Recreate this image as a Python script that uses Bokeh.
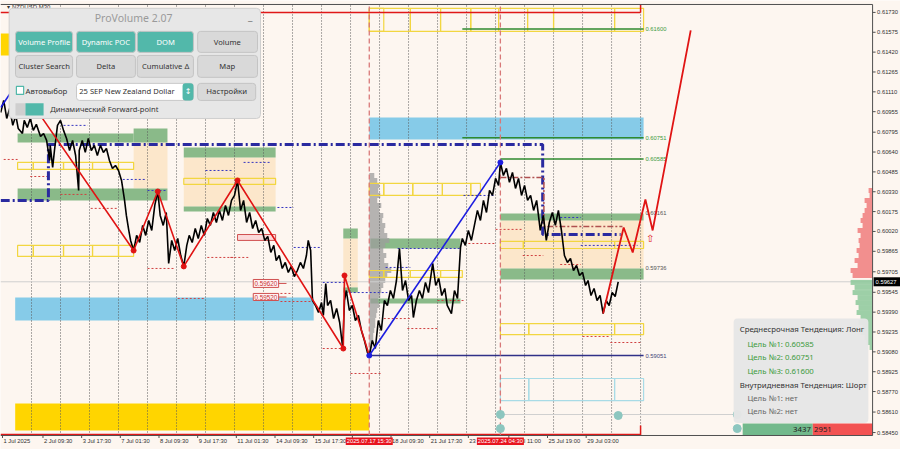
from bokeh.plotting import figure
from bokeh.models import ColumnDataSource, Range1d
from bokeh.core.properties import value
from bokeh.embed import file_html
from bokeh.resources import INLINE

BG = "#fdf6f0"
FONT = "Noto Sans"
AXF = "Liberation Sans"

# ---------------- scales: x = M30 bar index from 1 Jul 2025 00:00, y = price ----------------
PX_X = 1.655        # bars per screen pixel
PX_Y = 0.00007807   # price per screen pixel
X_MIN = -3.31
X_MAX = X_MIN + 900 * PX_X
Y_MAX = 0.61823
Y_MIN = Y_MAX - 449 * PX_Y
CH_X1 = 1440                 # right edge of the price pane (price scale on the right)
CH_Y0, CH_Y1 = 0.58427, 0.61792

TICK_BARS = [0, 67, 131, 195, 259, 323, 387, 451, 515, 579, 643, 707, 771, 838, 902, 966]
TICK_LABELS = ["1 Jul 2025", "2 Jul 09:30", "3 Jul 17:30", "7 Jul 01:30", "8 Jul 09:30", "9 Jul 17:30",
               "11 Jul 01:30", "14 Jul 09:30", "15 Jul 17:30", "17 Jul 01:30", "18 Jul 09:30",
               "21 Jul 17:30", "23 Jul 01:30", "24 Jul 11:00", "25 Jul 19:00", "29 Jul 03:00"]
PRICE_TICKS = [0.61730, 0.61575, 0.61420, 0.61265, 0.61110, 0.60955, 0.60795, 0.60640,
               0.60485, 0.60330, 0.60175, 0.60020, 0.59865, 0.59705, 0.59545, 0.59390,
               0.59235, 0.59080, 0.58925, 0.58770, 0.58610, 0.58450]
DAY_STARTS = [48, 96, 144, 192, 240, 288, 336, 384, 432, 480, 528, 576, 624, 672, 720,
              768, 816, 864, 912, 960, 1008, 1056]

# ---------------- price path ----------------
CLOSE_BAR = [-3, 2, 7, 12, 17, 22, 26, 33, 36, 41, 46, 51, 56, 63, 68, 73, 78, 79, 83, 86,
             91, 96, 101, 106, 111, 116, 121, 126, 127, 132, 137, 142, 147, 152, 157, 162, 167,
             172, 177, 182, 187, 192, 197, 202, 205, 209, 212, 217, 222, 227, 232, 237, 242,
             247, 252, 257, 261, 266, 271, 275, 280, 285, 290, 295, 300, 305, 309, 314, 319,
             324, 329, 334, 339, 344, 349, 354, 359, 364, 369, 374, 379, 384, 389, 394, 399,
             404, 409, 414, 419, 424, 429, 434, 439, 444, 449, 453, 458, 463, 468, 473, 478,
             483, 488, 493, 498, 503, 506, 510, 513, 518, 523, 528, 531, 535, 538, 543, 548,
             553, 558, 563, 566, 569, 574, 579, 584, 589, 594, 599, 604, 607, 612, 617, 622,
             627, 632, 637, 642, 647, 652, 657, 662, 667, 672, 677, 680, 685, 690, 695, 700,
             705, 712, 717, 722, 727, 732, 736, 743, 748, 753, 758, 761, 766, 771, 776, 781,
             786, 791, 796, 801, 806, 811, 816, 821, 824, 829, 834, 839, 844, 849, 854, 859,
             864, 869, 874, 879, 884, 890, 895, 900, 905, 910, 915, 920, 925, 930, 935, 940,
             945, 950, 955, 960, 965, 969, 974, 979, 984, 989, 994, 999, 1004, 1009, 1014, 1019]
CLOSE = [0.60949, 0.61043, 0.60902, 0.60981, 0.60848, 0.60926, 0.60824, 0.60785, 0.60887,
         0.60832, 0.60902, 0.60809, 0.60856, 0.60762, 0.60785, 0.60731, 0.60574, 0.60692,
         0.60520, 0.60652, 0.60848, 0.60887, 0.60809, 0.60746, 0.60652, 0.60731, 0.60613,
         0.60340, 0.60652, 0.60731, 0.60637, 0.60746, 0.60652, 0.60692, 0.60613, 0.60692,
         0.60637, 0.60668, 0.60574, 0.60512, 0.60535, 0.60496, 0.60418, 0.60262, 0.60145,
         0.60028, 0.59950, 0.59871, 0.59989, 0.59934, 0.60067, 0.59989, 0.60106, 0.60028,
         0.60223, 0.60332, 0.60145, 0.60067, 0.60168, 0.59770, 0.59950, 0.59871, 0.59965,
         0.59832, 0.59747, 0.59911, 0.59989, 0.59934, 0.60043, 0.59965, 0.60067, 0.59989,
         0.60121, 0.60067, 0.60168, 0.60090, 0.60184, 0.60106, 0.60223, 0.60145, 0.60262,
         0.60301, 0.60418, 0.60184, 0.60262, 0.60090, 0.60168, 0.60043, 0.60106, 0.60012,
         0.60043, 0.59950, 0.59981, 0.59856, 0.59911, 0.59793, 0.59832, 0.59731, 0.59778,
         0.59700, 0.59747, 0.59668, 0.59715, 0.59778, 0.59731, 0.59832, 0.59950, 0.59871,
         0.59481, 0.59442, 0.59387, 0.59465, 0.59364, 0.59614, 0.59442, 0.59481, 0.59340,
         0.59419, 0.59309, 0.59114, 0.59481, 0.59559, 0.59403, 0.59442, 0.59325, 0.59364,
         0.59247, 0.59169, 0.59075, 0.59051, 0.59169, 0.59106, 0.59325, 0.59247, 0.59481,
         0.59442, 0.59559, 0.59497, 0.59637, 0.59887, 0.59559, 0.59637, 0.59481, 0.59520,
         0.59348, 0.59481, 0.59559, 0.59497, 0.59622, 0.59543, 0.59770, 0.59598, 0.59653,
         0.59520, 0.59575, 0.59442, 0.59379, 0.59559, 0.59497, 0.59895, 0.59965, 0.59911,
         0.60028, 0.59950, 0.60067, 0.60184, 0.60106, 0.60262, 0.60168, 0.60340, 0.60301,
         0.60434, 0.60379, 0.60559, 0.60457, 0.60512, 0.60403, 0.60481, 0.60356, 0.60434,
         0.60301, 0.60379, 0.60262, 0.60301, 0.60184, 0.60262, 0.60028, 0.60145, 0.59950,
         0.60090, 0.60168, 0.60067, 0.60184, 0.60028, 0.59832, 0.59778, 0.59809, 0.59715,
         0.59754, 0.59676, 0.59700, 0.59598, 0.59637, 0.59520, 0.59575, 0.59481, 0.59520,
         0.59379, 0.59481, 0.59442, 0.59543, 0.59512, 0.59627]
LAST_PRICE = 0.59627

# ---------------- zigzag / projection ----------------
ZZ_RED_BAR = [25, 217, 257, 300, 389, 564, 566, 607]
ZZ_RED_P = [0.61184, 0.59871, 0.60332, 0.59747, 0.60418, 0.59106, 0.59676, 0.59051]
ZZ_BLUE1_BAR = [-3, 25]
ZZ_BLUE1_P = [0.60988, 0.61184]
ZZ_BLUE2_BAR = [607, 824]
ZZ_BLUE2_P = [0.59051, 0.60559]
PROJ_BAR = [994, 1028, 1043, 1064, 1076, 1139]
PROJ_P = [0.59379, 0.60051, 0.59856, 0.60270, 0.60028, 0.61590]

# ---------------- zones ----------------
GREEN_Z = dict(l=[25, 217, 25, 300, 300, 564, 564, 609, 609, 824, 824],
               r=[217, 273, 273, 452, 452, 588, 588, 758, 758, 1061, 1061],
               b=[0.60715, 0.60715, 0.60262, 0.60598, 0.60176, 0.59965, 0.59543, 0.59887, 0.59458, 0.60106, 0.59645],
               t=[0.60785, 0.60824, 0.60356, 0.60676, 0.60215, 0.60043, 0.59583, 0.59965, 0.59497, 0.60160, 0.59731])
BEIGE_Z = dict(l=[217, 300, 564, 824], r=[273, 452, 588, 1061],
               b=[0.60356, 0.60215, 0.59583, 0.59731], t=[0.60715, 0.60598, 0.59965, 0.60106])
SKY_Z = dict(l=[607, 21], r=[1061, 515], b=[0.60738, 0.59325], t=[0.60910, 0.59504])
GOLD_Z = dict(l=[21, -3], r=[607, 21], b=[0.58466, 0.61394], t=[0.58677, 0.61565])
YEL_BOX = dict(
    l=[607, 607, 675, 725, 775, 821, 869, 912, 1013,
       25, 51, 101, 149, 192, 25, 51, 101, 149, 192,
       300, 341, 432, 607, 631, 679, 728, 775, 607, 631, 675, 725,
       824, 862, 1013, 824, 871, 1013],
    r=[631, 675, 725, 775, 821, 869, 912, 1013, 1061,
       51, 101, 149, 192, 217, 51, 101, 149, 192, 217,
       341, 432, 452, 631, 679, 728, 775, 791, 631, 675, 725, 761,
       862, 1013, 1061, 871, 1013, 1061],
    b=[0.61582] * 9 + [0.60504] * 5 + [0.59825] * 5 + [0.60387] * 3 + [0.60301] * 5
      + [0.59661] * 4 + [0.59887] * 3 + [0.59215] * 3,
    t=[0.61762] * 9 + [0.60559] * 5 + [0.59911] * 5 + [0.60434] * 3 + [0.60395] * 5
      + [0.59715] * 4 + [0.59942] * 3 + [0.59301] * 3)
CYAN_BOX = dict(l=[824, 871, 1013], r=[871, 1013, 1061], b=[0.58700] * 3, t=[0.58872] * 3)

LEVELS_GREEN = dict(x0=[761, 761, 824], x1=[1061, 1061, 1061], y=[0.61600, 0.60751, 0.60585])
LEVEL_NAVY = dict(x0=[607], x1=[1061], y=[0.59051])
LEVEL_TXT = dict(x=[1064] * 6, y=[0.61600, 0.60751, 0.60585, 0.60161, 0.59736, 0.59051],
                 text=["0.61600", "0.60751", "0.60585", "0.60161", "0.59736", "0.59051"],
                 color=["#3c9a3c", "#3c9a3c", "#3c9a3c", "#555555", "#555555", "#444477"])

STEP_BAR = [-3, 76, 76, 894, 894, 1023]
STEP_P = [0.60262, 0.60262, 0.60699, 0.60699, 0.59996, 0.59996]
BROWN_BAR = [824, 896, 896, 1026]
BROWN_P = [0.60442, 0.60442, 0.60059, 0.60059]

RED_DOT = dict(x0=[2, 46, 96, 146, 240, 339, 290, 377, 460, 460, 530, 631, 670, 576, 720, 771, 816, 861, 923, 960, 1006],
               x1=[25, 79, 141, 190, 283, 382, 333, 410, 477, 510, 564, 675, 720, 626, 766, 816, 861, 895, 957, 1006, 1056],
               y=[0.60582, 0.60449, 0.60309, 0.60200, 0.59731, 0.59817, 0.59497, 0.59817, 0.59536, 0.59473, 0.59106,
                  0.59340, 0.59262, 0.58911, 0.59481, 0.59926, 0.60036, 0.59832, 0.59762, 0.59200, 0.59153])
BLUE_DOT = dict(x0=[101, 199, 240, 336, 399, 455, 482, 530, 568, 654, 634, 763, 923, 957],
                x1=[141, 237, 273, 382, 444, 482, 526, 568, 637, 758, 675, 813, 957, 1051],
                y=[0.60848, 0.60426, 0.60340, 0.60496, 0.60559, 0.60207, 0.59895, 0.59622, 0.59543, 0.59887,
                   0.59739, 0.60301, 0.60129, 0.59911])

VLINE_BARS = [607, 824]
VLINE_TEXT = ["2025.07.17 15:30", "2025.07.24 04:30"]

VP_P = [0.60457, 0.60418, 0.60379, 0.60340, 0.60301, 0.60262, 0.60223, 0.60184, 0.60145, 0.60106,
        0.60067, 0.60028, 0.59989, 0.59950, 0.59911, 0.59871, 0.59832, 0.59793, 0.59754, 0.59715,
        0.59676, 0.59637, 0.59598, 0.59559, 0.59520, 0.59481, 0.59442, 0.59403, 0.59364, 0.59325,
        0.59286, 0.59247, 0.59208, 0.59169, 0.59130, 0.59091]
VP_VOL = [5, 8, 10, 9, 11, 8, 12, 10, 14, 13, 16, 15, 18, 20, 16, 14, 17, 15, 19, 22, 18, 16, 14, 12,
          11, 9, 10, 8, 7, 6, 6, 5, 4, 4, 3, 2]
RP_RED_P = [0.60340, 0.60301, 0.60262, 0.60223, 0.60184, 0.60145, 0.60106, 0.60067, 0.60028, 0.59989,
            0.59950, 0.59911, 0.59871, 0.59832, 0.59793, 0.59754, 0.59715, 0.59676]
RP_RED_VOL = [4, 3, 8, 6, 8, 10, 12, 10, 15, 12, 14, 13, 16, 14, 18, 15, 22, 20]
RP_GRN_P = [0.59622, 0.59583, 0.59543, 0.59504, 0.59465, 0.59426, 0.59387, 0.59348, 0.59309, 0.59270,
            0.59231, 0.59192, 0.59153, 0.59114]
RP_GRN_VOL = [22, 18, 20, 15, 17, 14, 16, 12, 14, 10, 12, 8, 6, 3]
BUY_VOL, SELL_VOL = 3437, 2951

# ---------------- figure: the frame spans the whole window; price/time scales drawn at the pane edges ----
p = figure(frame_width=900, frame_height=449, x_range=Range1d(X_MIN, X_MAX),
           y_range=Range1d(Y_MIN, Y_MAX), output_backend="svg", toolbar_location=None,
           x_axis_location=None, y_axis_location=None, min_border=0,
           background_fill_color=BG, border_fill_color=BG, outline_line_color=None)
p.xgrid.visible = False
p.ygrid.visible = False

# zones
p.quad(left="l", right="r", bottom="b", top="t", source=ColumnDataSource(BEIGE_Z),
       fill_color="#fce6c6", fill_alpha=0.9, line_color=None)
p.quad(left="l", right="r", bottom="b", top="t", source=ColumnDataSource(SKY_Z),
       fill_color="#86cbe8", line_color=None)
p.quad(left="l", right="r", bottom="b", top="t", source=ColumnDataSource(GREEN_Z),
       fill_color="#7db47d", fill_alpha=0.9, line_color=None)
p.quad(left="l", right="r", bottom="b", top="t", source=ColumnDataSource(GOLD_Z),
       fill_color="#ffd500", line_color=None)

p.quad(left=[VLINE_BARS[0]] * len(VP_P), right=[VLINE_BARS[0] + v * PX_X for v in VP_VOL],
       bottom=[v - 0.000195 for v in VP_P], top=[v + 0.000195 for v in VP_P],
       fill_color="#9c9c9c", fill_alpha=0.75, line_color=None)

# day separators
p.segment(x0=DAY_STARTS, x1=DAY_STARTS, y0=[CH_Y0] * len(DAY_STARTS), y1=[CH_Y1] * len(DAY_STARTS),
          line_color="#5a5a5a", line_width=1, line_dash="1 2")

p.segment(x0=[X_MIN], x1=[CH_X1], y0=[LAST_PRICE], y1=[LAST_PRICE], line_color="#cfcfcf", line_width=1)
p.segment(x0=[824], x1=[1216], y0=[0.58591], y1=[0.58591], line_color="#d0d0d0", line_width=1)

p.quad(left="l", right="r", bottom="b", top="t", source=ColumnDataSource(YEL_BOX),
       fill_alpha=0, line_color="#f2d640", line_width=1.2)
p.quad(left="l", right="r", bottom="b", top="t", source=ColumnDataSource(CYAN_BOX),
       fill_alpha=0, line_color="#a8dbe6", line_width=1.2)

# red frame lines
p.segment(x0=[X_MIN, X_MIN, 1056, 1056], x1=[1056, 1056, 1056, 1056],
          y0=[0.61730, 0.58434, 0.61730, CH_Y0], y1=[0.61730, 0.58434, CH_Y1, 0.58505],
          line_color="#e01818", line_width=1.5)

p.segment(x0="x0", x1="x1", y0="y", y1="y", source=ColumnDataSource(LEVELS_GREEN),
          line_color="#2f8a2f", line_width=1.5)
p.segment(x0="x0", x1="x1", y0="y", y1="y", source=ColumnDataSource(LEVEL_NAVY),
          line_color="#303088", line_width=1.5)
p.segment(x0="x0", x1="x1", y0="y", y1="y", source=ColumnDataSource(RED_DOT),
          line_color="#d04040", line_width=1, line_dash="2 2")
p.segment(x0="x0", x1="x1", y0="y", y1="y", source=ColumnDataSource(BLUE_DOT),
          line_color="#3535c0", line_width=1, line_dash="2 2")
p.text(x="x", y="y", text="text", text_color="color", source=ColumnDataSource(LEVEL_TXT),
       text_font=value(AXF), text_font_size="5.8px", text_baseline="middle", text_align="left")

p.quad(left=[389], right=[452], bottom=[0.59950], top=[0.59996], fill_color="#fbdada",
       line_color="#d05050", line_width=1)
p.quad(left=[415, 415], right=[457, 457], bottom=[0.59583, 0.59481], top=[0.59645, 0.59536],
       fill_color="#fff2f2", line_color="#d05050", line_width=1)
p.segment(x0=[457, 457], x1=[470, 470], y0=[0.59614, 0.59508], y1=[0.59614, 0.59508],
          line_color="#d05050", line_width=1)
p.text(x=[436, 436], y=[0.59614, 0.59508], text=["0.59620", "0.59520"], text_color="#c83030",
       text_font=value(AXF), text_font_size="6.3px", text_baseline="middle", text_align="center")

p.segment(x0=VLINE_BARS, x1=VLINE_BARS, y0=[CH_Y0] * 2, y1=[CH_Y1] * 2,
          line_color="#d87878", line_width=1.3, line_dash="5 3")

p.line(STEP_BAR, STEP_P, line_color="#2a2aa0", line_width=3, line_dash="9 3 2 3")
p.line(BROWN_BAR, BROWN_P, line_color="#b05050", line_width=1.5, line_dash="6 2 2 2")

p.line(CLOSE_BAR, CLOSE, line_color="#000000", line_width=1.6)

p.line(ZZ_RED_BAR, ZZ_RED_P, line_color="#e01414", line_width=1.6)
p.line(ZZ_BLUE1_BAR, ZZ_BLUE1_P, line_color="#1c1ce0", line_width=1.6)
p.line(ZZ_BLUE2_BAR, ZZ_BLUE2_P, line_color="#1c1ce0", line_width=1.6)
p.line(PROJ_BAR, PROJ_P, line_color="#e01414", line_width=1.8)
p.scatter(ZZ_RED_BAR[:-1], ZZ_RED_P[:-1], size=5, color="#e01414")
p.scatter(ZZ_BLUE2_BAR, ZZ_BLUE2_P, size=5, color="#1c1ce0")
p.text(x=[1072], y=[0.59965], text=["⇧"], text_color="#e02020", text_font=value("DejaVu Sans"),
       text_font_size="10px", text_align="center", text_baseline="middle")

p.quad(left=[CH_X1 - v * PX_X for v in RP_RED_VOL], right=[CH_X1] * len(RP_RED_P),
       bottom=[v - 0.000195 for v in RP_RED_P], top=[v + 0.000195 for v in RP_RED_P],
       fill_color="#f07c7c", fill_alpha=0.85, line_color=None)
p.quad(left=[CH_X1 - v * PX_X for v in RP_GRN_VOL], right=[CH_X1] * len(RP_GRN_P),
       bottom=[v - 0.000195 for v in RP_GRN_P], top=[v + 0.000195 for v in RP_GRN_P],
       fill_color="#8cc89a", fill_alpha=0.85, line_color=None)

p.scatter([824, 824, 1019, 1216, 1216], [0.58591, 0.58481, 0.58583, 0.58591, 0.58481],
          size=8, color="#8cc6bf")

# right info box
p.quad(left=[1210], right=[1433], bottom=[0.58525], top=[0.59340], fill_color="#e6e6e6",
       fill_alpha=0.96, line_color=None, border_radius=4)
INFO = dict(x=[1220, 1233, 1233, 1233, 1220, 1233, 1233],
            y=[0.59255, 0.59145, 0.59036, 0.58927, 0.58825, 0.58723, 0.58622],
            text=["Среднесрочная Тенденция: Лонг", "Цель №1: 0.60585", "Цель №2: 0.60751",
                  "Цель №3: 0.61600", "Внутридневная Тенденция: Шорт", "Цель №1: нет", "Цель №2: нет"],
            color=["#333333", "#3c9a3c", "#3c9a3c", "#3c9a3c", "#333333", "#666666", "#666666"])
p.text(x="x", y="y", text="text", text_color="color", source=ColumnDataSource(INFO),
       text_font=value(FONT), text_font_size="7.8px", text_baseline="middle", text_align="left")

p.quad(left=[1225, 1341], right=[1341, CH_X1], bottom=[CH_Y0] * 2, top=[0.58520] * 2,
       fill_color=["#72b98c", "#f25252"], line_color=None)
p.text(x=[1338], y=[0.58474], text=[str(BUY_VOL)], text_color="#222222", text_font=value(FONT),
       text_font_size="7.8px", text_baseline="middle", text_align="right")
p.text(x=[1343], y=[0.58474], text=[str(SELL_VOL)], text_color="#222222", text_font=value(FONT),
       text_font_size="7.8px", text_baseline="middle", text_align="left")

# ---------------- ProVolume panel ----------------
p.text(x=[8], y=[0.61776], text=["▾ NZDUSD,M30"], text_color="#333333", text_font=value(AXF),
       text_font_size="6px", text_baseline="middle", text_align="left")
p.quad(left=[11], right=[427], bottom=[0.60902], top=[0.61762], fill_color="#e7e7e7",
       line_color="#cfcfcf", line_width=1, border_radius=4)
BTN = dict(l=[21.5, 122.5, 223, 323, 21.5, 122.5, 223, 323],
           r=[116, 220, 316, 422, 116, 220, 316, 422],
           b=[0.61418] * 4 + [0.61223] * 4, t=[0.61582] * 4 + [0.61394] * 4,
           fill=["#52b8aa", "#52b8aa", "#52b8aa", "#d9d9d9", "#d9d9d9", "#d9d9d9", "#d9d9d9", "#d9d9d9"],
           x=[69, 171, 270, 372, 69, 171, 270, 372],
           y=[0.61496] * 4 + [0.61309] * 4,
           text=["Volume Profile", "Dynamic POC", "DOM", "Volume", "Cluster Search", "Delta",
                 "Cumulative Δ", "Map"],
           color=["#ffffff"] * 3 + ["#333333"] * 5)
bsrc = ColumnDataSource(BTN)
p.quad(left="l", right="r", bottom="b", top="t", fill_color="fill", line_color="#c4c4c4",
       source=bsrc, border_radius=3)
p.text(x="x", y="y", text="text", text_color="color", source=bsrc, text_font=value(FONT),
       text_font_size="7.6px", text_baseline="middle", text_align="center")
p.text(x=[217], y=[0.61683], text=["ProVolume 2.07"], text_color="#9a9a9a", text_font=value(FONT),
       text_font_size="10.5px", text_baseline="middle", text_align="center")
p.text(x=[410], y=[0.61700], text=["_"], text_color="#777777", text_font=value(FONT),
       text_font_size="10px", text_baseline="middle", text_align="center")
p.quad(left=[23], right=[35], bottom=[0.61090], top=[0.61152], fill_color="#ffffff",
       line_color="#52b8aa", line_width=1.2)
p.text(x=[38], y=[0.61113], text=["Автовыбор"], text_color="#333333", text_font=value(FONT),
       text_font_size="7.8px", text_baseline="middle", text_align="left")
p.quad(left=[122.5], right=[316], bottom=[0.61043], top=[0.61176], fill_color="#ffffff",
       line_color="#c8c8c8", border_radius=3)
p.quad(left=[298], right=[316], bottom=[0.61043], top=[0.61176], fill_color="#52b8aa",
       line_color=None, border_radius=3)
p.text(x=[127], y=[0.61113], text=["25 SEP New Zealand Dollar"], text_color="#333333",
       text_font=value(FONT), text_font_size="7.6px", text_baseline="middle", text_align="left")
p.text(x=[307], y=[0.61110], text=["↕"], text_color="#ffffff", text_font=value("DejaVu Sans"),
       text_font_size="8px", text_baseline="middle", text_align="center")
p.quad(left=[323], right=[419], bottom=[0.61043], top=[0.61176], fill_color="#d9d9d9",
       line_color="#c4c4c4", border_radius=3)
p.text(x=[371], y=[0.61113], text=["Настройки"], text_color="#333333", text_font=value(FONT),
       text_font_size="7.8px", text_baseline="middle", text_align="center")
p.quad(left=[21.5, 38], right=[38, 68], bottom=[0.60926] * 2, top=[0.61020] * 2,
       fill_color=["#cfcfcf", "#52b8aa"], line_color=None)
p.text(x=[79], y=[0.60973], text=["Динамический Forward-point"], text_color="#333333",
       text_font=value(FONT), text_font_size="7.6px", text_baseline="middle", text_align="left")

# ---------------- price scale (right) and time scale (bottom) ----------------
p.segment(x0=[X_MIN, CH_X1, X_MIN], x1=[CH_X1, CH_X1, CH_X1], y0=[CH_Y0, CH_Y0, CH_Y1],
          y1=[CH_Y0, CH_Y1, CH_Y1], line_color="#505050", line_width=1)
p.segment(x0=[CH_X1] * len(PRICE_TICKS), x1=[CH_X1 + 3 * PX_X] * len(PRICE_TICKS),
          y0=PRICE_TICKS, y1=PRICE_TICKS, line_color="#505050", line_width=1)
p.text(x=[CH_X1 + 4.5 * PX_X] * len(PRICE_TICKS), y=PRICE_TICKS,
       text=[f"{v:.5f}" for v in PRICE_TICKS], text_color="#303030", text_font=value(AXF),
       text_font_size="5.8px", text_baseline="middle", text_align="left")
p.segment(x0=TICK_BARS, x1=TICK_BARS, y0=[CH_Y0] * len(TICK_BARS),
          y1=[CH_Y0 - 2.5 * PX_Y] * len(TICK_BARS), line_color="#505050", line_width=1)
p.text(x=[b + 1 * PX_X for b in TICK_BARS], y=[CH_Y0 - 6 * PX_Y] * len(TICK_BARS), text=TICK_LABELS,
       text_color="#303030", text_font=value(AXF), text_font_size="5.8px", text_baseline="middle",
       text_align="left")
# vertical-line time stamps
p.quad(left=[b - 23.5 * PX_X for b in VLINE_BARS], right=[b + 23.5 * PX_X for b in VLINE_BARS],
       bottom=[CH_Y0 - 9.5 * PX_Y] * 2, top=[CH_Y0 - 2 * PX_Y] * 2, fill_color="#e8141e", line_color=None)
p.text(x=VLINE_BARS, y=[CH_Y0 - 6 * PX_Y] * 2, text=VLINE_TEXT, text_color="#ffffff",
       text_font=value(AXF), text_font_size="5.8px", text_baseline="middle", text_align="center")
# current price tag
p.quad(left=[CH_X1 + 1 * PX_X], right=[X_MAX], bottom=[LAST_PRICE - 4.5 * PX_Y],
       top=[LAST_PRICE + 4.5 * PX_Y], fill_color="#000000", line_color=None)
p.text(x=[CH_X1 + 3 * PX_X], y=[LAST_PRICE], text=[f"{LAST_PRICE:.5f}"], text_color="#ffffff",
       text_font=value(AXF), text_font_size="5.8px", text_baseline="middle", text_align="left")

open("out.html", "w").write(file_html(p, INLINE))
